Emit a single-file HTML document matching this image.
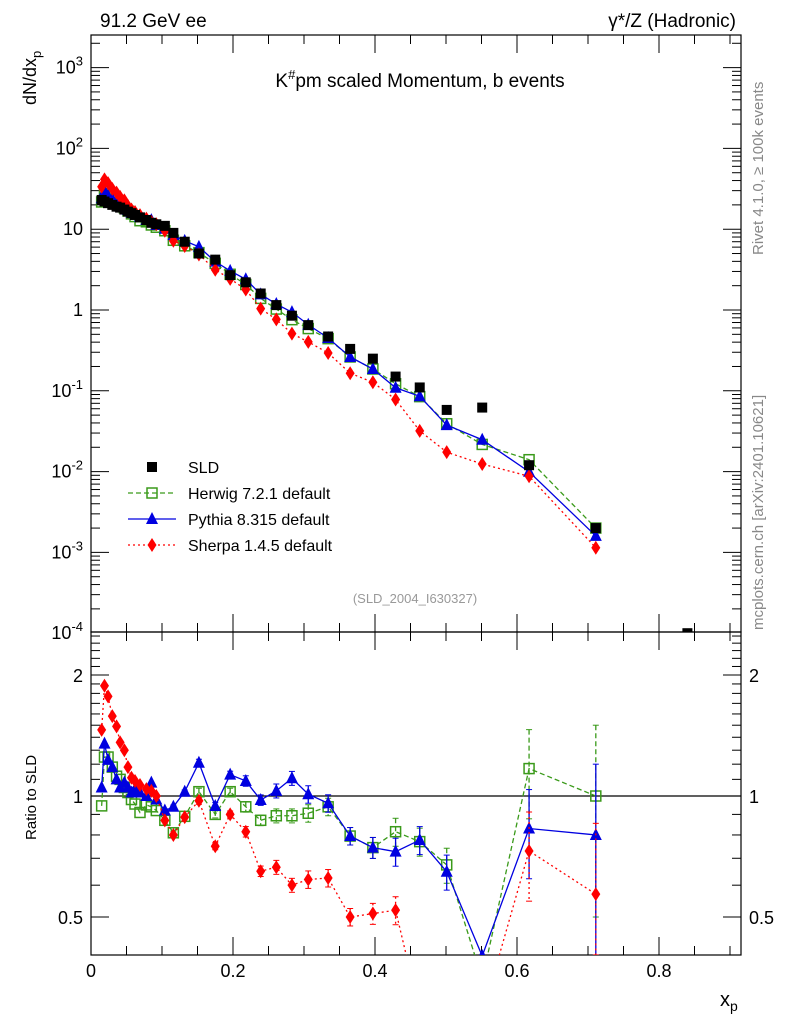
<!DOCTYPE html>
<html><head><meta charset="utf-8"><style>
html,body{margin:0;background:#fff;overflow:hidden;width:786px;height:1024px}
svg{display:block;overflow:hidden}
svg text{font-family:"Liberation Sans",sans-serif}
</style></head><body>
<svg id="c" width="786" height="1024" viewBox="0 0 786 1024" xmlns="http://www.w3.org/2000/svg">
<text x="100" y="27" font-size="19">91.2 GeV ee</text>
<text x="736" y="27" font-size="19" text-anchor="end">γ*/Z (Hadronic)</text>
<text x="420" y="87" font-size="19" text-anchor="middle">K<tspan dy="-8" font-size="13">#</tspan><tspan dy="8">pm scaled Momentum, b events</tspan></text>
<text transform="translate(36,105) rotate(-90)" font-size="18">dN/dx<tspan dy="5" font-size="13">p</tspan></text>
<text transform="translate(36,840) rotate(-90)" font-size="15">Ratio to SLD</text>
<text transform="translate(763,255) rotate(-90)" font-size="15" fill="#888">Rivet 4.1.0, ≥ 100k events</text>
<text transform="translate(763,630) rotate(-90)" font-size="15" fill="#888">mcplots.cern.ch [arXiv:2401.10621]</text>
<text x="415" y="603" font-size="13" fill="#999" text-anchor="middle">(SLD_2004_I630327)</text>
<text x="720" y="1006" font-size="20">x<tspan dy="5" font-size="14">p</tspan></text>
<g id="g"></g>
</svg>
<script>
const xs=[0.015,0.019,0.024,0.030,0.036,0.041,0.047,0.052,0.057,0.062,0.069,0.078,0.085,0.092,0.104,0.116,0.132,0.152,0.175,0.196,0.218,0.239,0.261,0.283,0.306,0.334,0.365,0.397,0.429,0.463,0.501,0.551,0.617,0.711];
const sld=[23,22,21,20,19,18.5,17.5,16.5,15.8,15,14,13,12,11.5,11,9,7,5,4.2,2.7,2.2,1.6,1.15,0.85,0.65,0.47,0.33,0.25,0.15,0.11,0.058,0.062,0.012,0.002];
const sldExtraX=[0.84];
const sldExtraY=[0.0001];
const herwigRatio=[0.945,1.25,1.25,1.18,1.12,1.1,1.05,1.02,0.98,0.955,0.91,0.95,0.94,0.92,0.87,0.81,0.89,1.025,0.90,1.025,0.94,0.87,0.893,0.893,0.906,0.94,0.795,0.744,0.815,0.77,0.674,0.35,1.17,1.0];
const pythiaRatio=[1.05,1.35,1.23,1.18,1.10,1.05,1.08,1.05,1.02,1.04,1.02,1.0,1.08,0.98,0.92,0.94,1.025,1.21,0.944,1.13,1.09,0.977,1.03,1.107,1.01,0.959,0.795,0.744,0.727,0.777,0.648,0.40,0.83,0.80];
const sherpaRatio=[1.46,1.88,1.77,1.58,1.49,1.36,1.30,1.18,1.11,1.09,1.065,1.04,1.03,1.0,0.87,0.80,0.886,0.973,0.75,0.90,0.815,0.65,0.665,0.60,0.62,0.625,0.50,0.51,0.52,0.29,0.30,0.2,0.73,0.57];
const relErr=[0,0,0,0,0,0,0,0,0,0,0,0,0,0,0.01,0.01,0.01,0.02,0.02,0.02,0.03,0.03,0.04,0.04,0.05,0.05,0.05,0.06,0.08,0.08,0.1,0.2,0.25,0.5];

const NS="http://www.w3.org/2000/svg",G=document.getElementById('g');
const L=91,R=741,T1=35,B1=632,T2=632,B2=955;
const X=v=>L+v*710;
const Y1=v=>310-80.8*Math.log10(v);
const Y2=v=>796-402*Math.log10(v);
const cl=(y,a,b)=>Math.max(a,Math.min(b,y));
function el(t,a,p){const e=document.createElementNS(NS,t);for(const k in a)e.setAttribute(k,a[k]);(p||G).appendChild(e);return e;}
let f=el('rect',{x:L,y:T1,width:R-L,height:B1-T1,fill:'none',stroke:'#000','stroke-width':1.2});


f=el('rect',{x:L,y:T2,width:R-L,height:B2-T2,fill:'none',stroke:'#000','stroke-width':1.2});


for(let d=-4;d<=3;d++){for(let m=1;m<10;m++){const v=m*Math.pow(10,d),y=Y1(v);if(y<T1||y>B1)continue;const len=m==1?18:9;
el('line',{x1:L,x2:L+len,y1:y,y2:y,stroke:'#000'});el('line',{x1:R,x2:R-len,y1:y,y2:y,stroke:'#000'});}
const y=Y1(Math.pow(10,d));const lbl=d==0?'1':d==1?'10':null;
const t=el('text',{x:L-8,y:y+6,'font-size':18,'text-anchor':'end'});


if(lbl)t.textContent=lbl;else{t.textContent='10';const s=el('tspan',{dy:-8,'font-size':13},t);s.textContent=String(d);}}
const rt=[0.4,0.5,0.6,0.7,0.8,0.9,1,1.1,1.2,1.3,1.4,1.5,1.6,1.7,1.8,1.9,2,2.1,2.2,2.3,2.4,2.5];
rt.forEach(v=>{const y=Y2(v);if(y<T2||y>B2)return;const len=(v==0.5||v==1||v==2)?18:9;
el('line',{x1:L,x2:L+len,y1:y,y2:y,stroke:'#000'});el('line',{x1:R,x2:R-len,y1:y,y2:y,stroke:'#000'});});
[[0.5,'0.5'],[1,'1'],[2,'2']].forEach(([v,s])=>{const a=el('text',{x:L-8,y:Y2(v)+7,'font-size':18,'text-anchor':'end'});a.textContent=s;


const b=el('text',{x:R+8,y:Y2(v)+7,'font-size':18});b.textContent=s;

});
for(let i=0;i<=18;i++){const v=i*0.05,x=X(v);if(x>R)break;const len=i%4==0?18:9;
[[T1,1],[B1,-1],[T2,1],[B2,-1]].forEach(([y0,s])=>el('line',{x1:x,x2:x,y1:y0,y2:y0+s*len,stroke:'#000'}));}
[0,0.2,0.4,0.6,0.8].forEach(v=>{const t=el('text',{x:X(v),y:977,'font-size':18,'text-anchor':'middle'});t.textContent=v==0?'0':v.toFixed(1);

});
el('line',{x1:L,x2:R,y1:Y2(1),y2:Y2(1),stroke:'#000','stroke-width':1.2});
const defs=el('defs',{});
const c1=el('clipPath',{id:'c1'},defs);el('rect',{x:L,y:T1,width:R-L,height:B1-T1},c1);
const c2=el('clipPath',{id:'c2'},defs);el('rect',{x:L,y:T2,width:R-L,height:B2-T2},c2);
const g1=el('g',{'clip-path':'url(#c1)'}),g2=el('g',{'clip-path':'url(#c2)'});
function marker(type,x,y,col,p,name){let m;
if(type=='sq')m=el('rect',{x:x-5,y:y-5,width:10,height:10,fill:'none',stroke:col,'stroke-width':1.5},p);
else if(type=='tri')m=el('polygon',{points:`${x},${y-7} ${x-6},${y+5} ${x+6},${y+5}`,fill:col},p);
else if(type=='dia')m=el('polygon',{points:`${x},${y-7} ${x-4.5},${y} ${x},${y+7} ${x+4.5},${y}`,fill:col},p);
else m=el('rect',{x:x-5,y:y-5,width:10,height:10,fill:col},p);

return m;}
const series=[['herwig',herwigRatio,'#3a9a1a','sq','5,3'],['pythia',pythiaRatio,'#0000e0','tri',''],['sherpa',sherpaRatio,'#ff0000','dia','2,3']];
series.forEach(([n,r,col,mk,da])=>{
 const mainPts=xs.map((x,i)=>[X(x),Y1(sld[i]*r[i])]);
 const ratPts=xs.map((x,i)=>[X(x),cl(Y2(r[i]),T2-60,B2+60)]);
 let p=el('polyline',{points:mainPts.join(' '),fill:'none',stroke:col,'stroke-width':1.3,'stroke-dasharray':da},g1);
 
 
 p=el('polyline',{points:ratPts.join(' '),fill:'none',stroke:col,'stroke-width':1.3,'stroke-dasharray':da},g2);
 
 
 xs.forEach((x,i)=>{const e=relErr[i];const ry=Y2(r[i]);
  if(e>0&&ry<B2){const y1=cl(Y2(r[i]*(1+e)),T2,B2),y2=cl(Y2(r[i]*(1-e)),T2,B2);
  el('line',{x1:X(x),x2:X(x),y1:y1,y2:y2,stroke:col,'stroke-width':1.3,'stroke-dasharray':da},g2);
  el('line',{x1:X(x)-3,x2:X(x)+3,y1:y1,y2:y1,stroke:col},g2);el('line',{x1:X(x)-3,x2:X(x)+3,y1:y2,y2:y2,stroke:col},g2);}
  marker(mk,mainPts[i][0],mainPts[i][1],col,g1,n+'-point');
  if(ry<=B2+3&&ry>=T2-3)marker(mk,X(x),ry,col,g2,n+'-ratio-point');});
});
xs.forEach((x,i)=>marker('fsq',X(x),Y1(sld[i]),'#000',g1,'sld-point'));
sldExtraX.forEach((x,i)=>marker('fsq',X(x),Y1(sldExtraY[i]),'#000',g1,'sld-point'));
const leg=[['SLD','fsq','#000',''],['Herwig 7.2.1 default','sq','#3a9a1a','5,3'],['Pythia 8.315 default','tri','#0000e0',''],['Sherpa 1.4.5 default','dia','#ff0000','2,3']];
leg.forEach(([s,mk,col,da],i)=>{const y=467+i*26;const g=el('g',{});


if(i>0)el('line',{x1:128,x2:176,y1:y,y2:y,stroke:col,'stroke-width':1.3,'stroke-dasharray':da},g);
marker(mk,152,y,col,g,'legend-marker');const t=el('text',{x:188,y:y+6,'font-size':16},g);t.textContent=s;});
</script>
</body></html>
